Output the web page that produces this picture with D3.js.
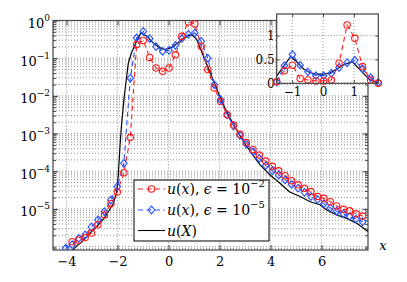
<!DOCTYPE html>
<html><head><meta charset="utf-8">
<script src="https://cdn.jsdelivr.net/npm/d3@7"></script>
<style>
body{margin:0;background:#fff}
svg text{font-family:'DejaVu Serif',serif !important;fill:#000}
</style></head>
<body><svg id="chart" width="407" height="282"></svg>
<script>
// sample points (shared grid for both eps runs)
const xGrid = [-4.03,-3.78,-3.52,-3.27,-3.02,-2.77,-2.51,-2.26,-2.01,-1.75,-1.50,-1.25,-0.99,-0.74,-0.49,-0.23,0.02,0.27,0.52,0.78,1.03,1.28,1.54,1.79,2.04,2.30,2.55,2.80,3.05,3.31,3.56,3.81,4.07,4.32,4.57,4.82,5.08,5.33,5.58,5.84,6.09,6.34,6.59,6.85,7.10,7.35,7.61];
// log10 of u(x), eps = 1e-2 (no sample at the first grid point)
const redLog = [null,-5.87,-5.83,-5.76,-5.64,-5.42,-5.16,-4.86,-4.55,-4.04,-3.1,-0.64,-0.53,-0.98,-1.26,-1.35,-1.26,-0.91,-0.42,-0.04,-0.09,-0.68,-1.3,-1.79,-2.15,-2.5,-2.77,-3.02,-3.24,-3.42,-3.57,-3.73,-3.87,-3.99,-4.12,-4.25,-4.36,-4.45,-4.54,-4.67,-4.72,-4.81,-4.92,-5.01,-5.05,-5.13,-5.19];
// log10 of u(x), eps = 1e-5
const blueLog = [-6.04,-5.95,-5.78,-5.69,-5.48,-5.29,-5.07,-4.76,-4.41,-3.79,-1.53,-0.46,-0.29,-0.48,-0.69,-0.82,-0.79,-0.66,-0.48,-0.37,-0.33,-0.55,-1.0,-1.7,-2.1,-2.5,-2.8,-3.05,-3.28,-3.48,-3.66,-3.85,-3.99,-4.1,-4.23,-4.35,-4.45,-4.56,-4.67,-4.75,-4.86,-4.97,-5.06,-5.13,-5.2,-5.27,-5.34];
// reference u(X)
const exactX = [-3.9,-3.6,-3.4,-3.1,-2.88,-2.49,-2.16,-2.03,-1.97,-1.9,-1.84,-1.75,-1.58,-1.45,-1.25,-1.09,-0.85,-0.6,-0.35,-0.14,0.1,0.35,0.6,0.85,0.95,1.1,1.25,1.5,1.82,2.0,2.25,2.5,2.75,3.0,3.25,3.59,3.98,4.37,4.75,5.16,5.55,5.94,6.2,6.6,6.99,7.38,7.82];
const exactLog = [-6.2,-5.98,-5.88,-5.65,-5.52,-5.22,-4.85,-4.55,-4.1,-3.3,-2.75,-2.1,-1.14,-0.85,-0.55,-0.33,-0.42,-0.6,-0.72,-0.77,-0.72,-0.6,-0.47,-0.38,-0.4,-0.5,-0.75,-1.17,-1.7,-2.0,-2.38,-2.7,-3.0,-3.27,-3.52,-3.83,-4.1,-4.32,-4.55,-4.67,-4.81,-4.89,-5.03,-5.16,-5.25,-5.38,-5.6];

// inset (linear scale)
const insetX = [-1.50,-1.25,-0.99,-0.74,-0.49,-0.23,0.02,0.27,0.52,0.78,1.03,1.28,1.54,1.79];
const insetRed = [0.03,0.26,0.38,0.1,0.07,0.05,0.05,0.07,0.42,1.22,0.94,0.35,0.07,0.0];
const insetBlue = [0.03,0.37,0.6,0.38,0.24,0.16,0.16,0.21,0.33,0.43,0.48,0.3,0.12,0.02];
const insetExactX = [-1.5,-1.25,-1.05,-0.85,-0.63,-0.4,-0.2,0.0,0.23,0.45,0.65,0.95,1.2,1.47,1.75];
const insetExactY = [0.15,0.38,0.56,0.45,0.3,0.22,0.19,0.19,0.22,0.3,0.38,0.45,0.28,0.1,0.01];

const xTicks = [-4,-2,0,2,4,6];
const yExps = [0,-1,-2,-3,-4,-5];
const insetXTicks = [-1,0,1];
const insetYTicks = [0,0.5,1];
const legendRows = [
  {kind:'red', exp:'−2'},
  {kind:'blue', exp:'−5'},
  {kind:'black'}
];

const RED = '#ff1a1a', BLUE = '#2450ff', AXIS = '#444';
const svg = d3.select('svg#chart');

const x = d3.scaleLinear().domain([-4.53, 7.82]).range([53, 368]);
const y = d3.scaleLog().domain([Math.pow(10, -6.09), 1]).range([250, 20.5]);

svg.append('defs').append('clipPath').attr('id', 'clipMain')
  .append('rect').attr('x', 53).attr('y', 20.5).attr('width', 315).attr('height', 229.5);

const main = svg.append('g');

// grid
const minor = [];
for (let e = -7; e <= 0; e++) for (let m = 1; m <= 9; m++) {
  const v = m * Math.pow(10, e);
  if (v >= y.domain()[0] && v <= 1) minor.push(v);
}
main.append('g').selectAll('line').data(minor).join('line')
  .attr('x1', 53).attr('x2', 368)
  .attr('y1', d => y(d)).attr('y2', d => y(d))
  .attr('stroke', '#777').attr('stroke-width', 0.8).attr('stroke-dasharray', '1,2');
main.append('g').selectAll('line').data(xTicks).join('line')
  .attr('x1', d => x(d)).attr('x2', d => x(d))
  .attr('y1', 20.5).attr('y2', 250)
  .attr('stroke', '#777').attr('stroke-width', 0.8).attr('stroke-dasharray', '1,2');

// axes (ticks inside, mirrored)
main.append('g').attr('transform', 'translate(0,250)')
  .call(d3.axisBottom(x).tickValues(xTicks).tickSize(-5).tickPadding(7)
    .tickFormat(d => (d < 0 ? '−' : '') + Math.abs(d)))
  .selectAll('text').attr('font-size', 13);
main.append('g').attr('transform', 'translate(0,20.5)')
  .call(d3.axisTop(x).tickValues(xTicks).tickSize(-5).tickFormat(''));
main.append('g').attr('transform', 'translate(53,0)')
  .call(d3.axisLeft(y).tickValues(minor).tickSize(-3).tickFormat(''));
main.append('g').attr('transform', 'translate(368,0)')
  .call(d3.axisRight(y).tickValues(minor).tickSize(-3).tickFormat(''));
main.append('g').attr('transform', 'translate(53,0)')
  .call(d3.axisLeft(y).tickValues(yExps.map(e => Math.pow(10, e))).tickSize(-5).tickFormat(''));
main.append('g').attr('transform', 'translate(368,0)')
  .call(d3.axisRight(y).tickValues(yExps.map(e => Math.pow(10, e))).tickSize(-5).tickFormat(''));
main.selectAll('.domain').remove();
main.selectAll('.tick line').attr('stroke', AXIS);
main.append('rect').attr('x', 53).attr('y', 20.5).attr('width', 315).attr('height', 229.5)
  .attr('fill', 'none').attr('stroke', AXIS).attr('stroke-width', 1.2);

// y labels 10^k
const yl = main.append('g').selectAll('text').data(yExps).join('text')
  .attr('x', 50).attr('y', d => y(Math.pow(10, d)) + 7.5)
  .attr('text-anchor', 'end').attr('font-size', 13);
yl.append('tspan').text('10');
yl.append('tspan').attr('dy', -7).attr('font-size', 9).text(d => d === 0 ? '0' : '−' + Math.abs(d));

// x label
main.append('text').attr('x', 383).attr('y', 250).attr('font-size', 13)
  .attr('font-style', 'italic').attr('text-anchor', 'middle').text('x');

// data
const plot = main.append('g').attr('clip-path', 'url(#clipMain)');
const line = d3.line().x(d => x(d[0])).y(d => y(Math.pow(10, d[1])));
const exactPts = exactX.map((v, i) => [v, exactLog[i]]);
const redPts = xGrid.map((v, i) => [v, redLog[i]]).filter(d => d[1] !== null);
const bluePts = xGrid.map((v, i) => [v, blueLog[i]]);

plot.append('path').datum(exactPts).attr('d', line)
  .attr('fill', 'none').attr('stroke', '#000').attr('stroke-width', 1.2);
plot.append('path').datum(bluePts).attr('d', line)
  .attr('fill', 'none').attr('stroke', BLUE).attr('stroke-width', 1.1).attr('stroke-dasharray', '5,3.5');
plot.append('path').datum(redPts).attr('d', line)
  .attr('fill', 'none').attr('stroke', RED).attr('stroke-width', 1.1).attr('stroke-dasharray', '5,3.5');

const diamond = 'M0,-3.8L3.3,0L0,3.8L-3.3,0Z';
plot.append('g').selectAll('path').data(bluePts).join('path')
  .attr('d', diamond)
  .attr('transform', d => `translate(${x(d[0])},${y(Math.pow(10, d[1]))})`)
  .attr('fill', 'none').attr('stroke', BLUE).attr('stroke-width', 1.1);
plot.append('g').selectAll('circle').data(redPts).join('circle')
  .attr('cx', d => x(d[0])).attr('cy', d => y(Math.pow(10, d[1]))).attr('r', 3.2)
  .attr('fill', 'none').attr('stroke', RED).attr('stroke-width', 1.1);

// legend
const lg = svg.append('g');
lg.append('rect').attr('x', 134).attr('y', 180).attr('width', 135).attr('height', 61)
  .attr('fill', '#fff').attr('stroke', '#000').attr('stroke-width', 1);
const rowY = [189, 210, 230.5];
legendRows.forEach((r, i) => {
  const yy = rowY[i];
  const col = r.kind === 'red' ? RED : r.kind === 'blue' ? BLUE : '#000';
  lg.append('line').attr('x1', 138).attr('x2', 165).attr('y1', yy).attr('y2', yy)
    .attr('stroke', col).attr('stroke-width', 1.1)
    .attr('stroke-dasharray', r.kind === 'black' ? null : '5,3.5');
  if (r.kind === 'red') lg.append('circle').attr('cx', 151.5).attr('cy', yy).attr('r', 3.2)
    .attr('fill', 'none').attr('stroke', RED).attr('stroke-width', 1.1);
  if (r.kind === 'blue') lg.append('path').attr('d', diamond).attr('transform', `translate(151.5,${yy})`)
    .attr('fill', 'none').attr('stroke', BLUE).attr('stroke-width', 1.1);
  const t = lg.append('text').attr('x', 167).attr('y', yy + 5).attr('font-size', 14);
  t.append('tspan').attr('font-style', 'italic').text('u');
  t.append('tspan').text('(');
  t.append('tspan').attr('font-style', 'italic').text(r.kind === 'black' ? 'X' : 'x');
  t.append('tspan').text(')');
  if (r.exp) {
    t.append('tspan').text(', ');
    t.append('tspan').attr('font-style', 'italic').text('ϵ');
    t.append('tspan').text(' = 10');
    t.append('tspan').attr('dy', -7).attr('font-size', 10).text(r.exp);
  }
});

// inset
const ix = d3.scaleLinear().domain([-1.5, 1.79]).range([276.7, 378.3]);
const iy = d3.scaleLinear().domain([0, 1.45]).range([83.3, 14]);
const ins = svg.append('g');
ins.append('rect').attr('x', 276.7).attr('y', 14).attr('width', 101.6).attr('height', 69.3).attr('fill', '#fff');
ins.append('g').selectAll('line').data(insetXTicks).join('line')
  .attr('x1', d => ix(d)).attr('x2', d => ix(d)).attr('y1', 14).attr('y2', 83.3)
  .attr('stroke', '#777').attr('stroke-width', 0.8).attr('stroke-dasharray', '1,2');
ins.append('g').selectAll('line').data(insetYTicks.slice(1)).join('line')
  .attr('x1', 276.7).attr('x2', 378.3).attr('y1', d => iy(d)).attr('y2', d => iy(d))
  .attr('stroke', '#777').attr('stroke-width', 0.8).attr('stroke-dasharray', '1,2');
ins.append('g').attr('transform', 'translate(0,83.3)')
  .call(d3.axisBottom(ix).tickValues(insetXTicks).tickSize(-3).tickPadding(4)
    .tickFormat(d => (d < 0 ? '−' : '') + Math.abs(d)));
ins.append('g').attr('transform', 'translate(276.7,0)')
  .call(d3.axisLeft(iy).tickValues(insetYTicks).tickSize(-3).tickPadding(2).tickFormat(d => d));
ins.append('g').attr('transform', 'translate(0,14)')
  .call(d3.axisTop(ix).tickValues(insetXTicks).tickSize(-3).tickFormat(''));
ins.append('g').attr('transform', 'translate(378.3,0)')
  .call(d3.axisRight(iy).tickValues(insetYTicks).tickSize(-3).tickFormat(''));
ins.selectAll('.domain').remove();
ins.selectAll('.tick line').attr('stroke', AXIS);
ins.selectAll('.tick text').attr('font-size', 12);

const iline = d3.line().x(d => ix(d[0])).y(d => iy(d[1]));
const iExact = insetExactX.map((v, i) => [v, insetExactY[i]]);
const iRed = insetX.map((v, i) => [v, insetRed[i]]);
const iBlue = insetX.map((v, i) => [v, insetBlue[i]]);
ins.append('path').datum(iExact).attr('d', iline)
  .attr('fill', 'none').attr('stroke', '#000').attr('stroke-width', 1.2);
ins.append('path').datum(iBlue).attr('d', iline)
  .attr('fill', 'none').attr('stroke', BLUE).attr('stroke-width', 1.1).attr('stroke-dasharray', '5,3.5');
ins.append('path').datum(iRed).attr('d', iline)
  .attr('fill', 'none').attr('stroke', RED).attr('stroke-width', 1.1).attr('stroke-dasharray', '5,3.5');
ins.append('g').selectAll('path').data(iBlue).join('path')
  .attr('d', diamond).attr('transform', d => `translate(${ix(d[0])},${iy(d[1])})`)
  .attr('fill', 'none').attr('stroke', BLUE).attr('stroke-width', 1.1);
ins.append('g').selectAll('circle').data(iRed).join('circle')
  .attr('cx', d => ix(d[0])).attr('cy', d => iy(d[1])).attr('r', 3.2)
  .attr('fill', 'none').attr('stroke', RED).attr('stroke-width', 1.1);
ins.append('rect').attr('x', 276.7).attr('y', 14).attr('width', 101.6).attr('height', 69.3)
  .attr('fill', 'none').attr('stroke', AXIS).attr('stroke-width', 1.2);
</script>
</body></html>
